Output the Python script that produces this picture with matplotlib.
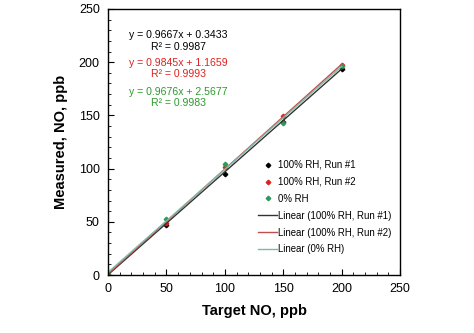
import matplotlib.pyplot as plt
from matplotlib.ticker import MultipleLocator
import numpy as np

plt.rcParams['font.family'] = ['Liberation Sans', 'DejaVu Sans']

target = [0, 50, 100, 150, 200]
run1 = [0, 47, 95, 144, 194]
run2 = [0, 49, 102, 149, 197]
rh0 = [1, 53, 104, 143, 196]

labels = ['100% RH, Run #1', '100% RH, Run #2', '0% RH']
fit_labels = ['Linear (100% RH, Run #1)', 'Linear (100% RH, Run #2)', 'Linear (0% RH)']
slopes = [0.9667, 0.9845, 0.9676]
intercepts = [0.3433, 1.1659, 2.5677]
r2 = [0.9987, 0.9993, 0.9983]

mcolors = ['black', '#e0201c', '#2e9a5a']
lcolors = ['#333333', '#c0504d', '#7fb9a8']
tcolors = ['black', '#e0201c', '#2e9a2e']

fig = plt.figure(figsize=(4.74, 3.33), dpi=100)
ax = fig.add_axes([0.228, 0.174, 0.616, 0.799])

series = [run1, run2, rh0]
for s, lab, c in zip(series, labels, mcolors):
    ax.plot(target, s, linestyle='none', marker='D', ms=2.3, color=c, label=lab)

xs = np.array([target[0], target[-1]])
for m, b, lab, c in zip(slopes, intercepts, fit_labels, lcolors):
    ax.plot(xs, m * xs + b, color=c, lw=1.0, label=lab)

# equations
eq_y = [220, 194, 167]
for m, b, r, c, yy in zip(slopes, intercepts, r2, tcolors, eq_y):
    ax.text(60, yy, 'y = %.4fx + %.4f\nR² = %.4f' % (m, b, r), color=c,
            ha='center', va='center', fontsize=7.6, linespacing=1.15)

ax.set_xlim(0, 250)
ax.set_ylim(0, 250)
ax.xaxis.set_major_locator(MultipleLocator(50))
ax.yaxis.set_major_locator(MultipleLocator(50))
ax.xaxis.set_minor_locator(MultipleLocator(10))
ax.yaxis.set_minor_locator(MultipleLocator(10))
ax.tick_params(which='both', direction='in', labelsize=9, top=False, right=False)
ax.tick_params(which='major', length=4, pad=6)
ax.tick_params(which='minor', length=2.5)
for sp in ax.spines.values():
    sp.set_linewidth(1.0)

ax.set_xlabel('Target NO, ppb', fontsize=10.5, fontweight='bold', labelpad=6)
ax.set_ylabel('Measured, NO, ppb', fontsize=10.5, fontweight='bold', labelpad=8)

ax.legend(loc='lower right', bbox_to_anchor=(1.0, 0.045), frameon=False, fontsize=6.9,
          handlelength=1.9, handletextpad=0.15, labelspacing=0.72, markerscale=1.0)

plt.savefig('out.png', dpi=100)
